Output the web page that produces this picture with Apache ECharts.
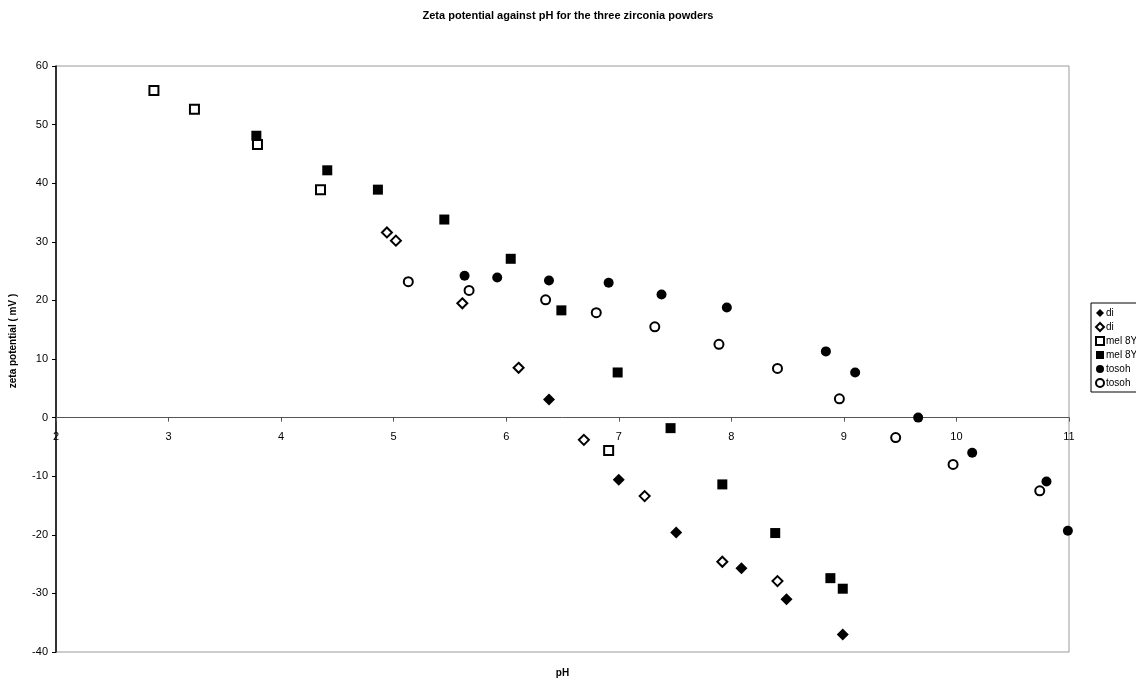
<!DOCTYPE html>
<html>
<head>
<meta charset="utf-8">
<script src="https://cdn.jsdelivr.net/npm/echarts@6/dist/echarts.min.js"></script>
<style>
  html, body { margin: 0; padding: 0; background: #fff; }
  #chart { width: 1136px; height: 682px; }
</style>
</head>
<body>
<div id="chart"></div>
<script>
// pH / zeta potential readings per powder
const diFilledPH = [6.38, 7.00, 7.51, 8.09, 8.49, 8.99];
const diFilledZeta = [3.1, -10.6, -19.6, -25.7, -31.0, -37.0];

const diOpenPH = [4.94, 5.02, 5.61, 6.11, 6.69, 7.23, 7.92, 8.41];
const diOpenZeta = [31.6, 30.2, 19.5, 8.5, -3.8, -13.4, -24.6, -27.9];

const melOpenPH = [2.87, 3.23, 3.79, 4.35, 6.91];
const melOpenZeta = [55.8, 52.6, 46.6, 38.9, -5.6];

const melFilledPH = [3.78, 4.41, 4.86, 5.45, 6.04, 6.49, 6.99, 7.46, 7.92, 8.39, 8.88, 8.99];
const melFilledZeta = [48.1, 42.2, 38.9, 33.8, 27.1, 18.3, 7.7, -1.8, -11.4, -19.7, -27.4, -29.2];

const tosohFilledPH = [5.63, 5.92, 6.38, 6.91, 7.38, 7.96, 8.84, 9.10, 9.66, 10.14, 10.80, 10.99];
const tosohFilledZeta = [24.2, 23.9, 23.4, 23.0, 21.0, 18.8, 11.3, 7.7, 0.0, -6.0, -10.9, -19.3];

const tosohOpenPH = [5.13, 5.67, 6.35, 6.80, 7.32, 7.89, 8.41, 8.96, 9.46, 9.97, 10.74];
const tosohOpenZeta = [23.2, 21.7, 20.1, 17.9, 15.5, 12.5, 8.4, 3.2, -3.4, -8.0, -12.5];

const yMin = -40;
const yMax = 60;

const labels = {
  "di-a": "di",
  "di-b": "di",
  "mel-a": "mel 8Y",
  "mel-b": "mel 8Y",
  "tosoh-a": "tosoh",
  "tosoh-b": "tosoh"
};

function pairs(xs, ys) {
  return xs.map((x, i) => [x, ys[i]]);
}

function makeSeries(id, xs, ys, symbol, filled, size) {
  return {
    name: id,
    type: "scatter",
    symbol: symbol,
    symbolSize: size,
    data: pairs(xs, ys),
    itemStyle: {
      color: filled ? "#000" : "#fff",
      borderColor: "#000",
      borderWidth: filled ? 0 : 2,
      opacity: 1
    },
    emphasis: { disabled: true }
  };
}

const gridTop = 66;
const gridBottom = 30;
const gridHeight = 682 - gridTop - gridBottom;
// x axis sits on the zero line; labels hang just below it
const zeroOffset = -gridHeight * (0 - yMin) / (yMax - yMin);

const chart = echarts.init(document.getElementById("chart"));
const font = "Liberation Sans, Arial, sans-serif";

chart.setOption({
  animation: false,
  title: {
    text: "Zeta potential against pH for the three zirconia powders",
    left: "center",
    top: 5,
    textStyle: { fontFamily: font, fontSize: 11, fontWeight: "bold", color: "#000" }
  },
  legend: {
    orient: "vertical",
    left: 1091,
    top: 303,
    padding: [5, 20, 4, 4],
    itemGap: 4,
    itemWidth: 8,
    itemHeight: 8,
    backgroundColor: "#fff",
    borderColor: "#000",
    borderWidth: 1,
    borderRadius: 0,
    formatter: name => labels[name],
    textStyle: { fontFamily: font, fontSize: 10, color: "#000", padding: [0, 0, 0, -3] },
    data: ["di-a", "di-b", "mel-a", "mel-b", "tosoh-a", "tosoh-b"]
  },
  grid: {
    left: 56,
    right: 67,
    top: gridTop,
    bottom: gridBottom,
    outerBoundsMode: "none",
    containLabel: false,
    show: true,
    borderColor: "#9a9a9a",
    borderWidth: 1
  },
  xAxis: [
    {
      type: "value",
      min: 2,
      max: 11,
      interval: 1,
      position: "bottom",
      offset: zeroOffset,
      axisLine: { onZero: false, lineStyle: { color: "#555", width: 1 } },
      axisTick: { length: 4, lineStyle: { color: "#555" } },
      axisLabel: { fontFamily: font, fontSize: 11, color: "#000", margin: 14 },
      splitLine: { show: false }
    },
    {
      type: "value",
      min: 2,
      max: 11,
      position: "bottom",
      name: "pH",
      nameLocation: "middle",
      nameGap: 16,
      nameTextStyle: { fontFamily: font, fontSize: 10, fontWeight: "bold", color: "#000" },
      axisLine: { show: false },
      axisTick: { show: false },
      axisLabel: { show: false },
      splitLine: { show: false }
    }
  ],
  yAxis: {
    type: "value",
    min: yMin,
    max: yMax,
    interval: 10,
    name: "zeta potential ( mV )",
    nameLocation: "middle",
    nameGap: 38,
    nameTextStyle: { fontFamily: font, fontSize: 10, fontWeight: "bold", color: "#000", padding: [0, 0, 0, 36] },
    axisLine: { onZero: false, lineStyle: { color: "#000", width: 1.5 } },
    axisTick: { length: 4, lineStyle: { color: "#000" } },
    axisLabel: { fontFamily: font, fontSize: 11, color: "#000", margin: 8 },
    splitLine: { show: false }
  },
  series: [
    makeSeries("di-a", diFilledPH, diFilledZeta, "diamond", true, 12),
    makeSeries("di-b", diOpenPH, diOpenZeta, "diamond", false, 10),
    makeSeries("mel-a", melOpenPH, melOpenZeta, "rect", false, 9),
    makeSeries("mel-b", melFilledPH, melFilledZeta, "rect", true, 10),
    makeSeries("tosoh-a", tosohFilledPH, tosohFilledZeta, "circle", true, 10),
    makeSeries("tosoh-b", tosohOpenPH, tosohOpenZeta, "circle", false, 9)
  ]
});
</script>
</body>
</html>
